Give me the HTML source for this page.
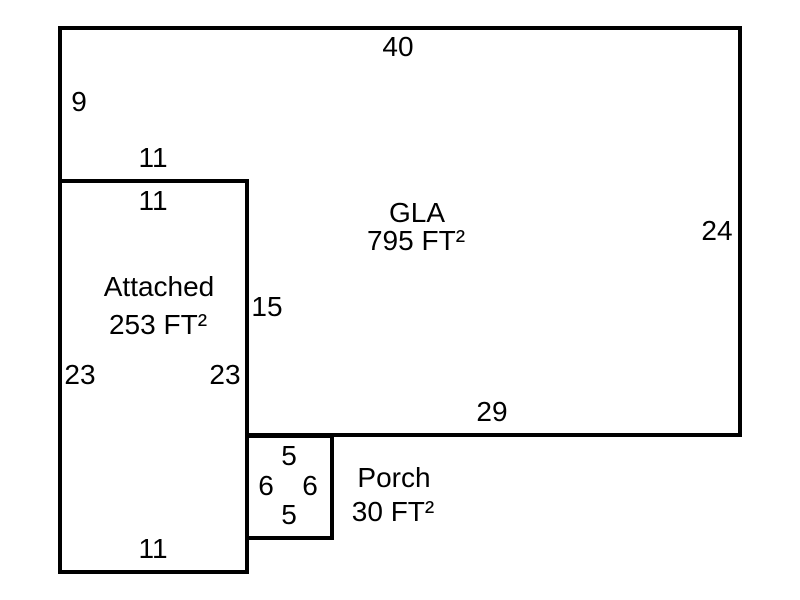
<!DOCTYPE html>
<html><head><style>body{margin:0;background:#fff}svg{display:block}text{font-family:"Liberation Sans",Arial,sans-serif;font-size:28px;fill:#000}</style></head><body>
<svg width="800" height="600" viewBox="0 0 800 600">
<g fill="none" stroke="#000" stroke-width="4" stroke-linecap="square">
<polyline points="60,181 60,28 740,28 740,435 247,435"/>
<rect x="60" y="181" width="187" height="391"/>
<polyline points="247,436 332,436 332,538 247,538"/>
</g>
<g text-anchor="middle">
<text x="398" y="56">40</text>
<text x="79" y="111">9</text>
<text x="153" y="167">11</text>
<text x="153" y="210">11</text>
<text x="417" y="222">GLA</text>
<text x="416" y="250">795 FT²</text>
<text x="717" y="240">24</text>
<text x="159" y="296">Attached</text>
<text x="158" y="334">253 FT²</text>
<text x="267" y="316">15</text>
<text x="80" y="384">23</text>
<text x="225" y="384">23</text>
<text x="492" y="421">29</text>
<text x="289" y="465">5</text>
<text x="266" y="495">6</text>
<text x="310" y="495">6</text>
<text x="289" y="524">5</text>
<text x="394" y="487">Porch</text>
<text x="393" y="521">30 FT²</text>
<text x="153" y="558">11</text>
</g>
</svg>
</body></html>
